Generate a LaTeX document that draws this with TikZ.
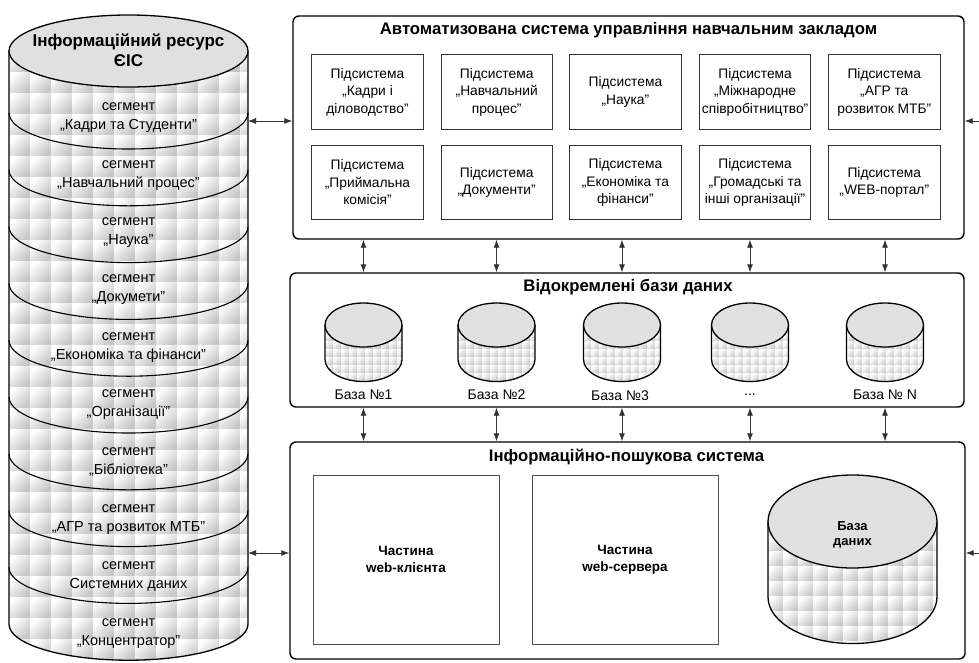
\documentclass[tikz,border=0pt]{standalone}
\usepackage{fontspec}
\setmainfont{Liberation Sans}
\usetikzlibrary{arrows.meta,calc}
\definecolor{topgray}{HTML}{E0E0E0}
\definecolor{linegray}{HTML}{333333}
\tikzset{
  outerbox/.style={draw=black, line width=1.4pt, rounded corners=6pt, inner sep=0pt},
  subbox/.style={draw=linegray, line width=0.9pt, minimum width=111.5pt, minimum height=74.5pt, align=center, inner sep=1pt, font=\fontsize{13.8}{17.5}\selectfont},
  bigbox/.style={draw=black!70, line width=0.9pt, minimum width=186pt, minimum height=169pt, align=center, font=\bfseries\fontsize{13.5}{16.5}\selectfont},
  boxtitle/.style={font=\bfseries\fontsize{16.7}{19}\selectfont, inner sep=0pt},
  segtext/.style={align=center, font=\fontsize{14.5}{19}\selectfont, inner sep=0pt},
  dblabel/.style={font=\fontsize{14}{16}\selectfont, inner sep=0pt},
  cylline/.style={draw=black, line width=1.3pt},
  tileshade/.style={left color=white, right color=gray!45, shading angle=45},
  dbl/.style={draw=linegray, line width=0.9pt, {Latex[length=8pt,width=6pt]}-{Latex[length=8pt,width=6pt]}},
  arr/.style={draw=linegray, line width=0.9pt, -{Latex[length=8pt,width=6pt]}},
  hold/.style={inner sep=0pt, outer sep=0pt, draw=none},
}
\newcommand{\tilefill}[5]{%
  \pgfmathtruncatemacro{\tnx}{ceil(((#3)-(#1))/(#5))}%
  \pgfmathtruncatemacro{\tny}{ceil(((#4)-(#2))/(#5))}%
  \foreach \ti in {1,...,\tnx}{%
    \foreach \tj in {1,...,\tny}{%
      \shade[tileshade] ({(#1)+(\ti-1)*(#5)},{(#2)+(\tj-1)*(#5)}) rectangle ++(#5,#5);
    }%
  }%
}
% cx, cy (top ellipse centre), rx, ry, side length, tile size
\newcommand{\mycyl}[6]{%
  \begin{scope}
    \clip ({(#1)-(#3)},#2) -- ({(#1)-(#3)},{(#2)+(#5)}) arc[start angle=180,end angle=0,x radius=#3,y radius=#4] -- ({(#1)+(#3)},#2) -- cycle;
    \tilefill{(#1)-(#3)}{#2}{(#1)+(#3)}{(#2)+(#5)+(#4)}{#6}
  \end{scope}
  \draw[cylline] ({(#1)-(#3)},#2) -- ({(#1)-(#3)},{(#2)+(#5)}) arc[start angle=180,end angle=0,x radius=#3,y radius=#4] -- ({(#1)+(#3)},#2);
  \draw[cylline, fill=topgray] (#1,#2) ellipse[x radius=#3, y radius=#4];
}
\begin{document}
\begin{tikzpicture}[x=1pt,y=-1pt]
\path[use as bounding box, fill=white] (0,0) rectangle (979,662);

% ---------- left cylinder ----------
\mycyl{128.5}{51}{119.5}{36}{573.2}{21}
\foreach \k in {0,...,8}{
  \draw[cylline, line width=1.1pt] (9,{113+56.8*\k}) arc[start angle=180,end angle=0,x radius=119.5,y radius=36];
}
\node[hold, minimum width=239pt, minimum height=646pt] (eis) at (128.5,338) {};
\node[align=center, font=\bfseries\fontsize{17}{20}\selectfont, inner sep=0pt] (eist) at (128.5,50) {Інформаційний ресурс\\ЄІС};
\node[segtext] (s1) at (128.5,118) {сегмент\\„Кадри та Студенти”};
\node[segtext] (s2) at (128.5,175.3) {сегмент\\„Навчальний процес”};
\node[segtext] (s3) at (128.5,232.6) {сегмент\\„Наука”};
\node[segtext] (s4) at (128.5,289.9) {сегмент\\„Докумети”};
\node[segtext] (s5) at (128.5,347.2) {сегмент\\„Економіка та фінанси”};
\node[segtext] (s6) at (128.5,404.5) {сегмент\\„Організації”};
\node[segtext] (s7) at (128.5,461.8) {сегмент\\„Бібліотека”};
\node[segtext] (s8) at (128.5,519.1) {сегмент\\„АГР та розвиток МТБ”};
\node[segtext] (s9) at (128.5,576.4) {сегмент\\Системних даних};
\node[segtext] (s10) at (128.5,633.7) {сегмент\\„Концентратор”};

% ---------- top box ----------
\node[outerbox, minimum width=671pt, minimum height=223pt] (asu) at (628.5,127.5) {};
\node[boxtitle] (asut) at (628.5,30) {Автоматизована система управління навчальним закладом};
\node[subbox] (p1) at (367.5,92) {Підсистема\\„Кадри і\\діловодство”};
\node[subbox] (p2) at (496.7,92) {Підсистема\\„Навчальний\\процес”};
\node[subbox] (p3) at (625.4,92) {Підсистема\\„Наука”};
\node[subbox] (p4) at (755.1,92) {Підсистема\\„Міжнародне\\співробітництво”};
\node[subbox] (p5) at (884.3,92) {Підсистема\\„АГР та\\розвиток МТБ”};
\node[subbox] (p6) at (367.5,182.5) {Підсистема\\„Приймальна\\комісія”};
\node[subbox] (p7) at (496.7,182.5) {Підсистема\\„Документи”};
\node[subbox] (p8) at (625.4,182.5) {Підсистема\\„Економіка та\\фінанси”};
\node[subbox] (p9) at (755.1,182.5) {Підсистема\\„Громадські та\\інші організації”};
\node[subbox] (p10) at (884.3,182.5) {Підсистема\\„WEB-портал”};

% ---------- middle box ----------
\node[outerbox, minimum width=674pt, minimum height=134pt] (vdb) at (627,340) {};
\node[boxtitle] (vdbt) at (628,287) {Відокремлені бази даних};
\mycyl{363.5}{325}{38.5}{22}{34.5}{8}
\mycyl{496.5}{325}{38.5}{22}{34.5}{8}
\mycyl{622}{325}{38.5}{22}{34.5}{8}
\mycyl{750}{325}{38.5}{22}{34.5}{8}
\mycyl{885}{325}{38.5}{22}{34.5}{8}
\node[hold, minimum width=77pt, minimum height=79pt] (db1) at (363.5,342.5) {};
\node[hold, minimum width=77pt, minimum height=79pt] (db2) at (496.5,342.5) {};
\node[hold, minimum width=77pt, minimum height=79pt] (db3) at (622,342.5) {};
\node[hold, minimum width=77pt, minimum height=79pt] (db4) at (750,342.5) {};
\node[hold, minimum width=77pt, minimum height=79pt] (db5) at (885,342.5) {};
\node[dblabel] (l1) at (363.5,395) {База №1};
\node[dblabel] (l2) at (496.5,395) {База №2};
\node[dblabel] (l3) at (620,396) {База №3};
\node[dblabel] (l4) at (750,395) {...};
\node[dblabel] (l5) at (885,395) {База № N};

% ---------- bottom box ----------
\node[outerbox, minimum width=675pt, minimum height=217pt] (ips) at (627.5,550.5) {};
\node[boxtitle] (ipst) at (626.5,457) {Інформаційно-пошукова система};
\node[bigbox] (wc) at (406,559.5) {Частина\\web-клієнта};
\node[bigbox] (ws) at (625,559.5) {Частина\\web-сервера};
\mycyl{852.5}{521.5}{84.5}{46.5}{75.5}{15}
\node[hold, minimum width=169pt, minimum height=169pt] (bd) at (852.5,559) {};
\node[align=center, font=\bfseries\fontsize{13}{15.5}\selectfont, inner sep=0pt] (bdt) at (852.5,535) {База\\даних};

% ---------- connectors ----------
\foreach \d in {db1,db2,db3,db4,db5}{
  \draw[dbl] (\d |- asu.south) -- (\d |- vdb.north);
  \draw[dbl] (\d |- vdb.south) -- (\d |- ips.north);
}
\coordinate (a1) at ([yshift=6.5pt]asu.west);
\coordinate (a2) at ([yshift=-2.5pt]ips.west);
\draw[dbl] (a1 -| eis.east) -- (a1);
\draw[dbl] (a2 -| eis.east) -- (a2);
\coordinate (r1) at (979,121);
\coordinate (r2) at (979,553);
\draw[arr] (r1) -- (r1 -| asu.east);
\draw[arr] (r2) -- (r2 -| ips.east);
\end{tikzpicture}
\end{document}
